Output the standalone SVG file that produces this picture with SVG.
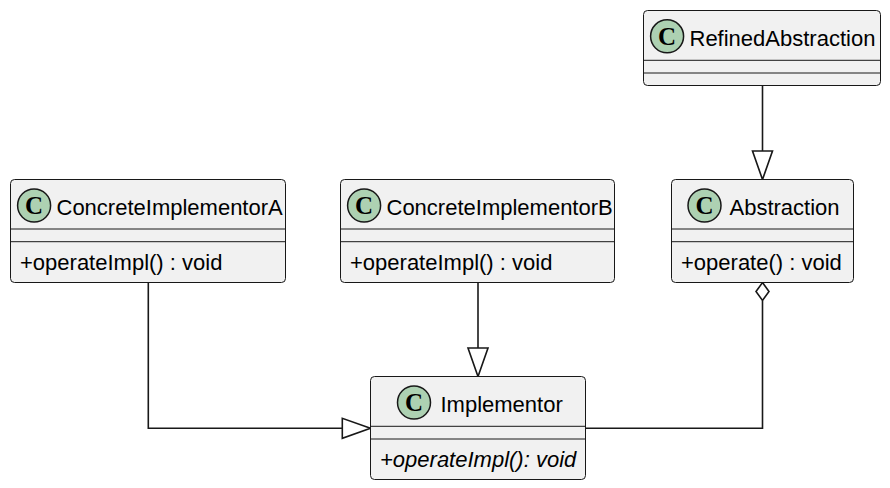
<svg xmlns="http://www.w3.org/2000/svg" width="890" height="488" viewBox="0 0 890 488">
<defs>
<style>
.box{fill:#F1F1F1;stroke:#181818;stroke-width:1}
.sep{stroke:#181818;stroke-width:1}
.spot{fill:#ADD1B2;stroke:#181818;stroke-width:1.5}
.spotc{font-family:"Liberation Serif",serif;font-weight:bold;font-size:25px;fill:#000;text-anchor:middle}
.name{font-family:"Liberation Sans",Arial,sans-serif;font-size:22px;fill:#000}
.mth{font-family:"Liberation Sans",Arial,sans-serif;font-size:22px;fill:#000}
.abs{font-style:italic}
.ln{fill:none;stroke:#181818;stroke-width:1.6}
.head{fill:#FFFFFF;stroke:#181818;stroke-width:1.6}
</style>
</defs>
<rect width="890" height="488" fill="#FFFFFF"/>
<g id="connectors">
<path class="ln" d="M762.5,85.5 L762.5,151"/>
<polygon class="head" points="752.5,151 772.5,151 762.5,179.5"/>
<path class="ln" d="M478,282.5 L478,348"/>
<polygon class="head" points="468,348 488,348 478,376.5"/>
<path class="ln" d="M148.3,282.5 L148.3,428.3 L342.3,428.3"/>
<polygon class="head" points="342.3,418.3 342.3,438.3 370.5,428.3"/>
<path class="ln" d="M585.5,428.3 L762.5,428.3 L762.5,300.5"/>
<polygon class="head" points="762.5,282.5 769,291.5 762.5,300.5 756,291.5"/>
</g>
<g id="RefinedAbstraction">
<rect class="box" x="643.5" y="10.5" width="237" height="75" rx="4"/>
<line class="sep" x1="643.5" y1="60.3" x2="880.5" y2="60.3"/>
<line class="sep" x1="643.5" y1="73" x2="880.5" y2="73"/>
<circle class="spot" cx="667.1" cy="36.3" r="16.5"/>
<text class="spotc" x="667.1" y="44.8">C</text>
<text class="name" x="689.5" y="45.5">RefinedAbstraction</text>
</g>
<g id="Abstraction">
<rect class="box" x="671.5" y="179.5" width="182" height="103" rx="4"/>
<line class="sep" x1="671.5" y1="229" x2="853.5" y2="229"/>
<line class="sep" x1="671.5" y1="241.7" x2="853.5" y2="241.7"/>
<circle class="spot" cx="704.5" cy="205.5" r="16.5"/>
<text class="spotc" x="704.5" y="214">C</text>
<text class="name" x="729.5" y="214.5">Abstraction</text>
<text class="mth" x="681" y="270">+operate() : void</text>
</g>
<g id="ConcreteImplementorA">
<rect class="box" x="10.5" y="179.5" width="275" height="103" rx="4"/>
<line class="sep" x1="10.5" y1="229" x2="285.5" y2="229"/>
<line class="sep" x1="10.5" y1="241.7" x2="285.5" y2="241.7"/>
<circle class="spot" cx="34.1" cy="205.5" r="16.5"/>
<text class="spotc" x="34.1" y="214">C</text>
<text class="name" x="56.5" y="214.5">ConcreteImplementorA</text>
<text class="mth" x="20" y="270">+operateImpl() : void</text>
</g>
<g id="ConcreteImplementorB">
<rect class="box" x="340.5" y="179.5" width="274" height="103" rx="4"/>
<line class="sep" x1="340.5" y1="229" x2="614.5" y2="229"/>
<line class="sep" x1="340.5" y1="241.7" x2="614.5" y2="241.7"/>
<circle class="spot" cx="364.1" cy="205.5" r="16.5"/>
<text class="spotc" x="364.1" y="214">C</text>
<text class="name" x="386.5" y="214.5">ConcreteImplementorB</text>
<text class="mth" x="350" y="270">+operateImpl() : void</text>
</g>
<g id="Implementor">
<rect class="box" x="370.5" y="376.5" width="215" height="103" rx="4"/>
<line class="sep" x1="370.5" y1="426.3" x2="585.5" y2="426.3"/>
<line class="sep" x1="370.5" y1="439" x2="585.5" y2="439"/>
<circle class="spot" cx="414" cy="402.5" r="16.5"/>
<text class="spotc" x="414" y="411">C</text>
<text class="name" x="440.5" y="411.5">Implementor</text>
<text class="mth abs" x="380" y="466.5">+operateImpl(): void</text>
</g>
</svg>
